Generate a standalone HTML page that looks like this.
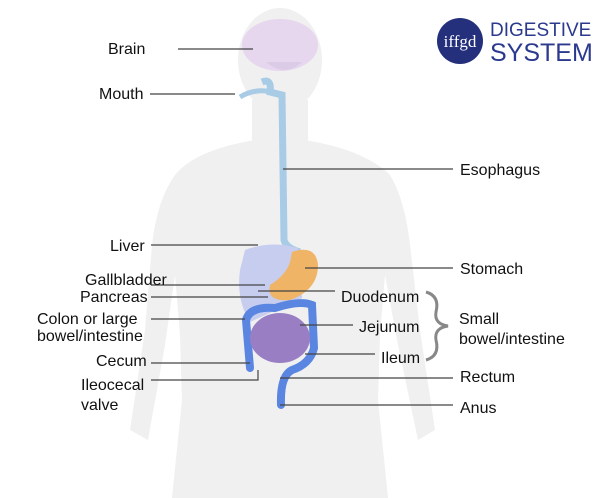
<!DOCTYPE html>
<html><head><style>
html,body{margin:0;padding:0;background:#fff}
svg{display:block}
text{font-family:"Liberation Sans",sans-serif;fill:#111;font-size:16px}
</style></head><body>
<svg width="600" height="498" viewBox="0 0 600 498" xmlns="http://www.w3.org/2000/svg">
<!-- body silhouette -->
<g fill="#f0f0f0">
<ellipse cx="280" cy="60" rx="42" ry="52"/>
<rect x="252" y="100" width="56" height="60"/>
<path d="M175 175 Q195 150 255 140 L305 140 Q365 150 390 175 Q405 200 410 245 L420 330 L435 430 L418 440 L398 345 L385 275 L380 335 L378 400 L388 498 L172 498 L182 400 L180 335 L175 275 L165 345 L148 440 L130 430 L145 330 L152 245 Q157 200 175 175Z"/>
</g>
<!-- brain -->
<ellipse cx="280" cy="45" rx="38" ry="26" fill="#e6d6ee"/>
<path d="M266 62 Q285 78 302 62" fill="#dccbe6"/>
<!-- esophagus / mouth -->
<path d="M262 82 Q272 78 270 92 L282 95 L284 240 Q286 248 300 252" stroke="#a8cbe6" stroke-width="7" fill="none"/>
<path d="M240 97 Q255 88 272 92" stroke="#a8cbe6" stroke-width="5" fill="none"/>
<!-- liver -->
<path d="M245 250 Q272 240 298 248 L302 298 Q272 312 250 322 Q236 300 240 270Z" fill="#c7cdef"/>
<!-- stomach -->
<path d="M292 252 Q316 244 318 265 Q318 290 290 300 Q266 302 270 285 Q286 275 290 262Z" fill="#f0b467"/>
<!-- colon -->
<path d="M250 368 L246 320 Q250 306 275 308 Q300 300 312 305 L314 348 Q310 364 292 370 Q280 376 281 405" stroke="#5a85e0" stroke-width="8" fill="none" stroke-linecap="round"/>
<!-- small intestine -->
<ellipse cx="280" cy="338" rx="30" ry="25" fill="#9a7ec4"/>
<!-- lines -->
<g stroke="#444" stroke-width="1.2">
<line x1="178" y1="49" x2="253" y2="49"/>
<line x1="150" y1="94" x2="235" y2="94"/>
<line x1="283" y1="169" x2="453" y2="169"/>
<line x1="151" y1="245" x2="258" y2="245"/>
<line x1="305" y1="268" x2="453" y2="268"/>
<line x1="151" y1="285" x2="265" y2="285"/>
<line x1="151" y1="297" x2="268" y2="297"/>
<line x1="258" y1="291" x2="335" y2="291"/>
<line x1="151" y1="319" x2="245" y2="319"/>
<line x1="300" y1="325" x2="353" y2="325"/>
<line x1="305" y1="354" x2="375" y2="354"/>
<line x1="151" y1="363" x2="250" y2="363"/>
<polyline points="151,380 258,380 258,370" fill="none"/>
<line x1="280" y1="378" x2="453" y2="378"/>
<line x1="280" y1="405" x2="453" y2="405"/>
</g>
<path d="M426 292 Q440 296 436 312 Q434 324 448 326 Q434 328 436 340 Q440 356 426 360" stroke="#888" stroke-width="3" fill="none"/>
<!-- labels -->
<text x="108" y="54">Brain</text>
<text x="99" y="99">Mouth</text>
<text x="110" y="251">Liver</text>
<text x="85" y="285">Gallbladder</text>
<text x="80" y="302">Pancreas</text>
<text x="37" y="324">Colon or large</text>
<text x="37" y="341">bowel/intestine</text>
<text x="96" y="366">Cecum</text>
<text x="81" y="390">Ileocecal</text>
<text x="81" y="410">valve</text>
<text x="460" y="175">Esophagus</text>
<text x="460" y="274">Stomach</text>
<text x="341" y="302">Duodenum</text>
<text x="359" y="332">Jejunum</text>
<text x="381" y="363">Ileum</text>
<text x="459" y="324">Small</text>
<text x="459" y="344">bowel/intestine</text>
<text x="460" y="382">Rectum</text>
<text x="460" y="413">Anus</text>
<!-- logo -->
<circle cx="460" cy="41" r="23" fill="#25307c"/>
<text x="460" y="47" text-anchor="middle" style="font-family:'Liberation Serif',serif;font-size:17px;fill:#fff">iffgd</text>
<text x="490" y="36" style="font-size:19px;fill:#2b3a8e">DIGESTIVE</text>
<text x="490" y="61" style="font-size:25px;fill:#2b3a8e">SYSTEM</text>
</svg>
</body></html>
